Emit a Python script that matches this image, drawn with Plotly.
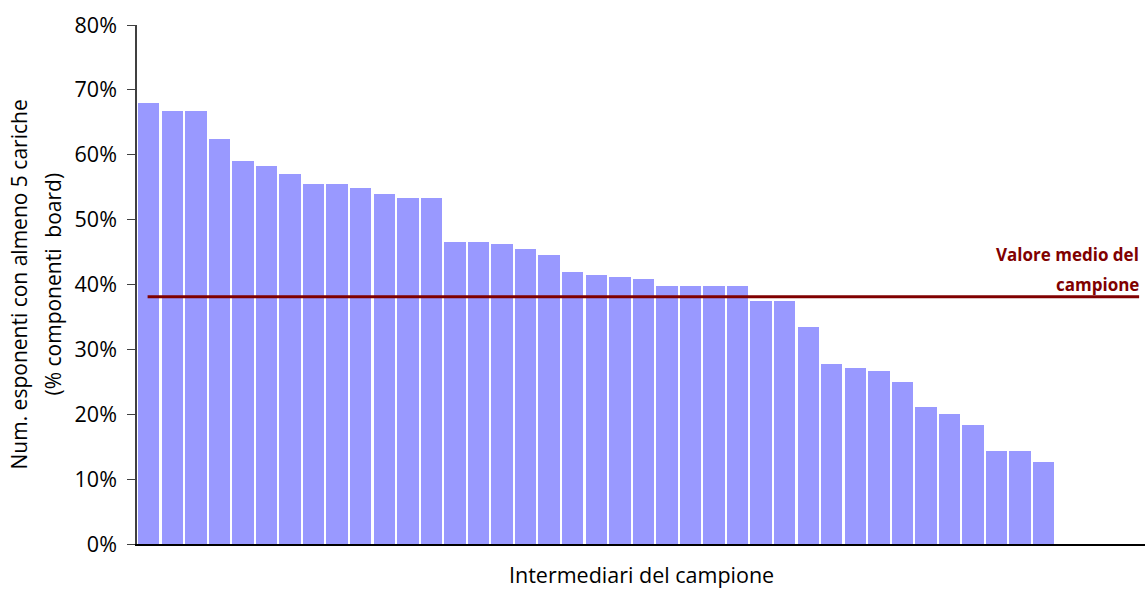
import plotly.graph_objects as go

# share of board members with at least 5 appointments, one bar per intermediary
intermediari = list(range(1, 40))
quota = [
    0.680, 0.667, 0.667, 0.625, 0.590, 0.582, 0.571, 0.555, 0.555, 0.548,
    0.540, 0.534, 0.534, 0.466, 0.466, 0.462, 0.454, 0.445, 0.420, 0.415,
    0.411, 0.408, 0.398, 0.398, 0.398, 0.398, 0.375, 0.375, 0.334, 0.278,
    0.272, 0.266, 0.249, 0.211, 0.201, 0.183, 0.143, 0.143, 0.126,
]
valore_medio = 0.381
y_ticks = [0, 0.1, 0.2, 0.3, 0.4, 0.5, 0.6, 0.7, 0.8]

titolo_y = ["Num. esponenti con almeno 5 cariche", "(% componenti  board)"]
titolo_x = "Intermediari del campione"
etichetta_media = ["Valore medio del", "campione"]

font = "Open Sans, Liberation Sans, sans-serif"
rosso = "#800000"

fig = go.Figure()
fig.add_trace(go.Bar(
    x=intermediari,
    y=quota,
    marker=dict(color="#9999FF", line=dict(width=0)),
    width=0.91,
    hoverinfo="y",
))
fig.add_trace(go.Scatter(
    x=[0.95, 43.05],
    y=[valore_medio, valore_medio],
    mode="lines",
    line=dict(color=rosso, width=3),
    hoverinfo="skip",
))

# label of the mean line, two lines with wide spacing like the original
for i, riga in enumerate(etichetta_media):
    fig.add_annotation(
        x=1.0, xref="paper", xanchor="right", xshift=-4,
        y=valore_medio, yref="y", yanchor="middle", yshift=12 + 30 * (1 - i),
        text=f"<b>{riga}</b>", showarrow=False,
        font=dict(family=font, size=17, color=rosso),
    )

# y axis title as two rotated lines
for i, riga in enumerate(titolo_y):
    fig.add_annotation(
        x=0, xref="paper", xanchor="center", xshift=-119 + 34 * i,
        y=0.5, yref="paper", yanchor="middle",
        text=riga, textangle=-90, showarrow=False,
        font=dict(family=font, size=21, color="#000000"),
    )

fig.add_annotation(
    x=0.5, xref="paper", xanchor="center",
    y=0, yref="paper", yanchor="middle", yshift=-30,
    text=titolo_x, showarrow=False,
    font=dict(family=font, size=21.5, color="#000000"),
)

fig.update_layout(
    width=1145, height=590,
    margin=dict(l=137, r=0, t=25, b=46, autoexpand=False),
    paper_bgcolor="white", plot_bgcolor="white",
    showlegend=False,
    bargap=0,
    font=dict(family=font, size=20, color="#000000"),
    xaxis=dict(
        range=[0.5, 43.3],
        showticklabels=False, ticks="",
        showgrid=False, zeroline=False,
        showline=True, linecolor="#000000", linewidth=1.5,
    ),
    yaxis=dict(
        range=[0, 0.8],
        tickvals=y_ticks, tickformat=".0%",
        ticks="outside", ticklen=8, tickcolor="#404040", tickwidth=1,
        ticklabelstandoff=6,
        showgrid=False, zeroline=False,
        showline=True, linecolor="#404040", linewidth=1.5,
        tickfont=dict(family=font, size=21.5),
    ),
)

# drop the default 8px body margin so the figure fills the window exactly
fig.write_html(
    "out.html",
    config={"displayModeBar": False},
    post_script="document.body.style.margin = '0';",
)
